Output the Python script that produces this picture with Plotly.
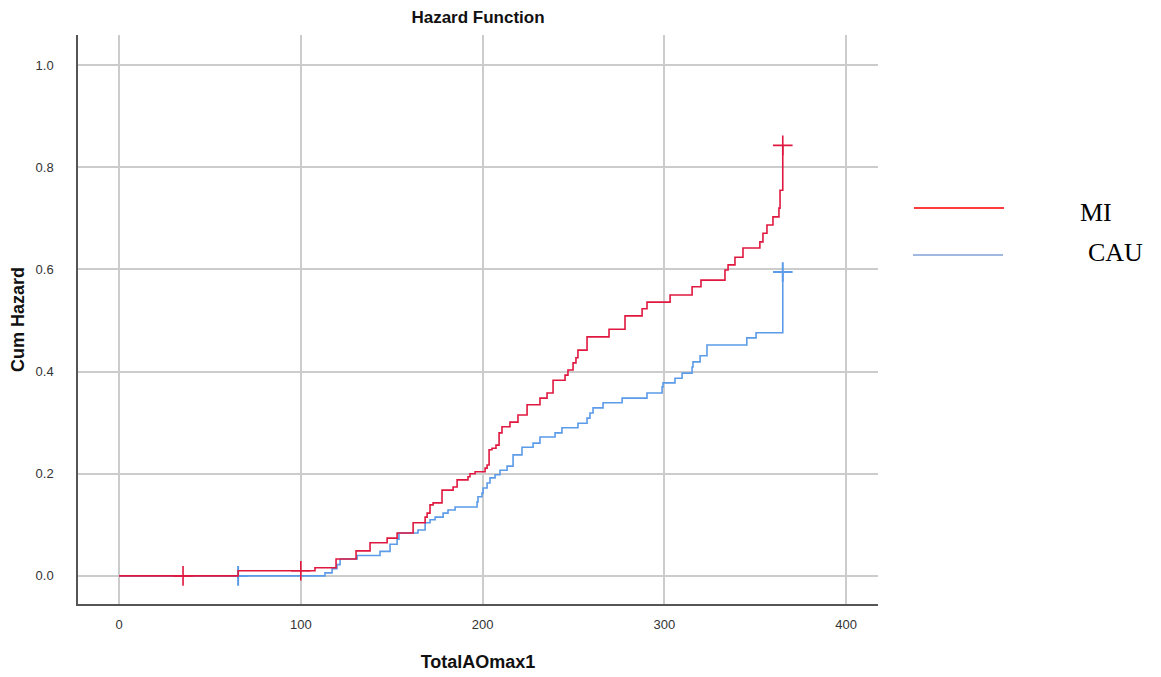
import plotly.graph_objects as go

# ---- data ----
mi_time = [0, 65.5, 107.8, 119.4, 130.4, 138.1, 147.5, 153.0, 161.8, 168.4, 169.5, 171.1, 172.8,
           177.7, 183.8, 186.0, 192.0, 193.1, 195.9, 201.4, 202.5, 203.6, 205.2, 207.4, 209.1,
           210.7, 215.1, 219.5, 224.5, 231.6, 235.5, 238.8, 245.4, 247.0, 249.8, 251.4, 252.5,
           257.5, 269.6, 278.4, 287.8, 290.5, 303.2, 315.3, 320.2, 333.4, 335.1, 338.9, 343.3,
           352.6, 354.3, 356.5, 359.8, 363.1, 363.7, 365.2]
mi_haz = [0, 0.010, 0.016, 0.033, 0.049, 0.065, 0.074, 0.084, 0.104, 0.115, 0.123, 0.139, 0.143,
          0.168, 0.174, 0.188, 0.194, 0.200, 0.204, 0.211, 0.217, 0.247, 0.250, 0.256, 0.280,
          0.292, 0.301, 0.315, 0.335, 0.348, 0.358, 0.383, 0.393, 0.403, 0.417, 0.427, 0.442,
          0.468, 0.483, 0.509, 0.523, 0.536, 0.550, 0.566, 0.579, 0.599, 0.609, 0.624, 0.642,
          0.654, 0.671, 0.687, 0.703, 0.720, 0.755, 0.843]
mi_cens_t = [35.2, 100.0, 365.2]
mi_cens_h = [0.0, 0.010, 0.843]

cau_time = [0, 112.2, 113.3, 117.2, 119.9, 121.6, 131.0, 143.6, 149.1, 153.0, 154.0, 164.5, 168.4,
            171.1, 173.9, 178.3, 181.0, 184.9, 197.0, 197.5, 199.7, 200.3, 202.5, 204.1, 206.9,
            209.6, 213.5, 216.8, 221.7, 227.8, 231.6, 239.9, 243.7, 252.5, 257.5, 259.1, 260.8,
            266.3, 276.8, 290.5, 298.8, 299.3, 305.9, 309.8, 315.3, 315.8, 319.7, 323.5, 345.4,
            350.5, 365.2]
cau_haz = [0, 0.0, 0.006, 0.014, 0.022, 0.033, 0.040, 0.048, 0.062, 0.072, 0.084, 0.090, 0.104,
           0.110, 0.115, 0.123, 0.129, 0.135, 0.145, 0.155, 0.162, 0.172, 0.182, 0.192, 0.198,
           0.207, 0.215, 0.237, 0.252, 0.260, 0.272, 0.280, 0.290, 0.299, 0.309, 0.319, 0.329,
           0.339, 0.348, 0.358, 0.370, 0.378, 0.387, 0.397, 0.409, 0.419, 0.431, 0.452, 0.466,
           0.476, 0.595]
cau_cens_t = [65.5, 365.2]
cau_cens_h = [0.0, 0.595]

x_ticks = [0, 100, 200, 300, 400]
y_ticks = [0.0, 0.2, 0.4, 0.6, 0.8, 1.0]
legend_names = ["MI", "CAU"]

RED = "#e0183f"
BLUE = "#5b9be8"

fig = go.Figure()
fig.add_trace(go.Scatter(x=cau_time, y=cau_haz, mode="lines", line=dict(color=BLUE, width=1.6, shape="hv"),
                         showlegend=False, hoverinfo="skip"))
fig.add_trace(go.Scatter(x=cau_cens_t, y=cau_cens_h, mode="markers",
                         marker=dict(symbol="cross-thin", size=14, line=dict(color=BLUE, width=2)),
                         showlegend=False))
fig.add_trace(go.Scatter(x=mi_time, y=mi_haz, mode="lines", line=dict(color=RED, width=1.6, shape="hv"),
                         showlegend=False, hoverinfo="skip"))
fig.add_trace(go.Scatter(x=mi_cens_t, y=mi_cens_h, mode="markers",
                         marker=dict(symbol="cross-thin", size=14, line=dict(color=RED, width=1.6)),
                         showlegend=False))

# page offset (body margin) compensation
OFF = 8
W, H = 1161, 677
L = 78 - OFF
T = 35 - OFF
R = W - (878 - OFF)
B = H - (604 - OFF)
pw, ph = W - L - R, H - T - B

def px(x):
    return (x - OFF - L) / pw

def py(y):
    return (H - B - (y - OFF)) / ph

fig.update_layout(
    width=W, height=H,
    margin=dict(l=L, r=R, t=T, b=B, autoexpand=False),
    paper_bgcolor="white", plot_bgcolor="white",
    font=dict(family="Liberation Sans, Arial", color="#222"),
    title=dict(text="<b>Hazard Function</b>", x=(478 - OFF) / W, xanchor="center",
               y=1 - (17 - OFF) / H, yanchor="middle",
               font=dict(size=17, color="#111")),
    xaxis=dict(range=[-22.6, 417.6], tickvals=x_ticks, ticktext=[str(v) for v in x_ticks],
               showgrid=True, gridcolor="#cccccc", gridwidth=1.5, zeroline=False,
               showline=True, linecolor="#555", linewidth=1.5, ticks="", ticklabelstandoff=8,
               tickfont=dict(size=13, color="#333"),
               title=dict(text="<b>TotalAOmax1</b>", font=dict(size=18, color="#111"), standoff=24)),
    yaxis=dict(range=[-0.055, 1.059], tickvals=y_ticks, ticktext=[f"{v:.1f}" for v in y_ticks],
               showgrid=True, gridcolor="#cccccc", gridwidth=1.5, zeroline=False,
               showline=True, linecolor="#555", linewidth=1.5, ticks="", ticklabelstandoff=20,
               tickfont=dict(size=13, color="#333"),
               title=dict(text="<b>Cum Hazard</b>", font=dict(size=18, color="#111"), standoff=26)),
    showlegend=False,
)

# custom legend on the right
fig.add_shape(type="line", xref="paper", yref="paper", x0=px(914), x1=px(1004), y0=py(208), y1=py(208),
              line=dict(color="#ff3b3b", width=2))
fig.add_shape(type="line", xref="paper", yref="paper", x0=px(913), x1=px(1003), y0=py(255), y1=py(255),
              line=dict(color="#4472c4", width=1.2))
fig.add_annotation(text=legend_names[0], xref="paper", yref="paper", x=px(1078), y=py(213),
                   xanchor="left", yanchor="middle", showarrow=False,
                   font=dict(family="Liberation Serif, Times New Roman", size=26, color="#000"))
fig.add_annotation(text=legend_names[1], xref="paper", yref="paper", x=px(1086), y=py(252),
                   xanchor="left", yanchor="middle", showarrow=False,
                   font=dict(family="Liberation Serif, Times New Roman", size=26, color="#000"))

fig.write_html("out.html")
